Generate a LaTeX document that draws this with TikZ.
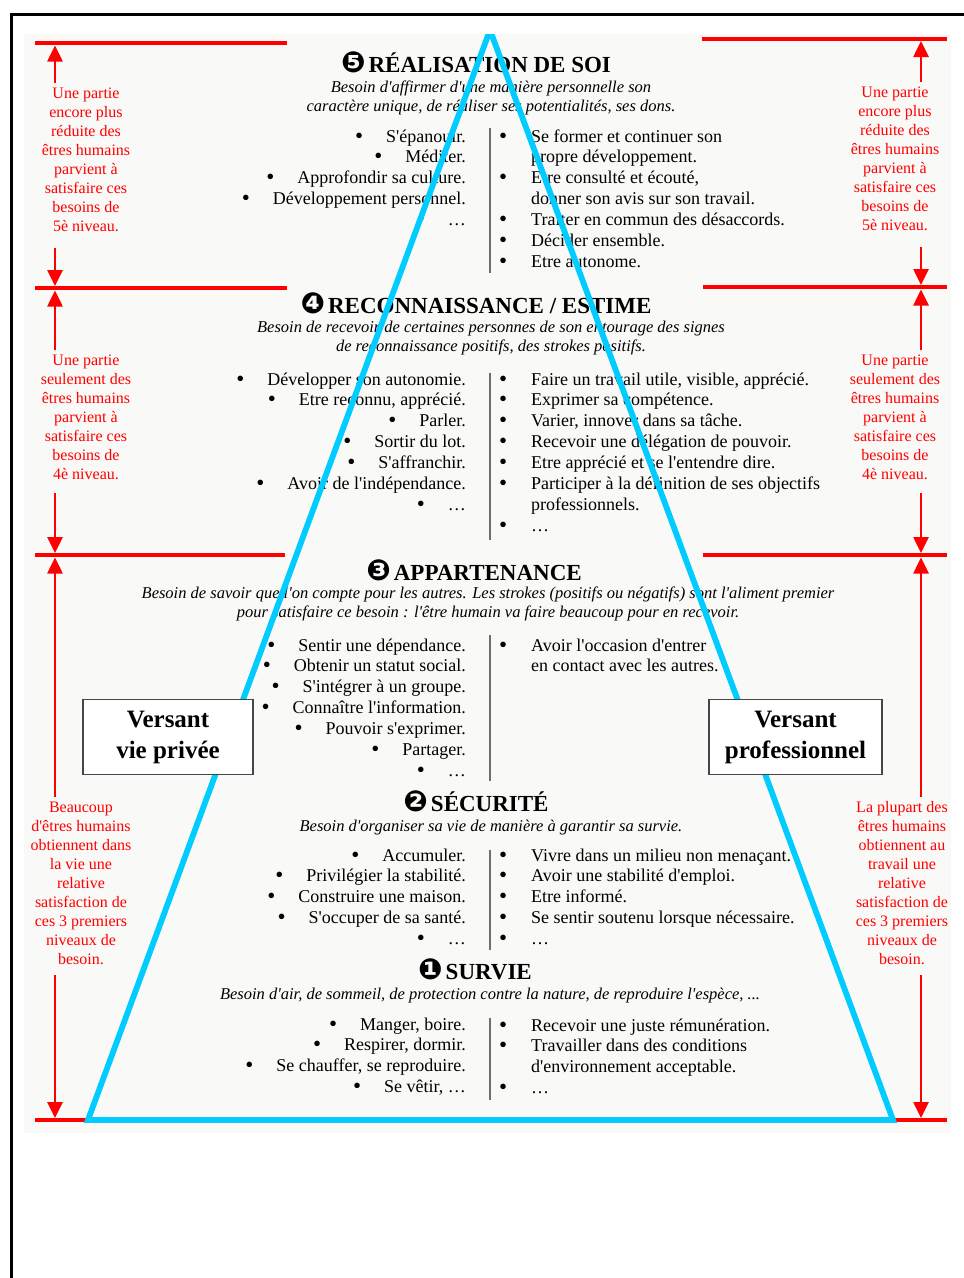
\documentclass[tikz,border=0pt]{standalone}
\usepackage{fontspec}
\setmainfont{Liberation Serif}[Ligatures=TeXOff]
\newfontfamily\dingfont{DejaVu Sans}
\usetikzlibrary{arrows.meta}

\definecolor{skyblue}{RGB}{0,204,255}
\definecolor{panelbg}{RGB}{249,250,248}
\definecolor{sepgray}{RGB}{110,110,110}
\definecolor{boxgray}{RGB}{70,70,70}

\newcommand\bigdot{\raisebox{-1pt}{\fontsize{23}{0}\selectfont\textbullet}}
\newcommand\lbul{\makebox[31pt][l]{\bigdot}}
\newcommand\rbul{\makebox[31pt][l]{\hspace*{-1pt}\bigdot}}
\newcommand\rind{\hspace*{31pt}}
\newcommand\circnum[1]{{\dingfont\fontsize{29}{29}\selectfont #1}\hspace{3pt}}

\begin{document}
% multi-line nodes are placed by the baseline of their LAST line
\begin{tikzpicture}[x=1pt,y=-1pt,
  redline/.style={red, line width=4pt},
  redarrow/.style={red, line width=2.6pt, -{Triangle[width=15pt,length=16pt]}},
  redtxt/.style={text=red, align=center, inner sep=0pt, anchor=base, font=\fontsize{16}{19.1}\selectfont},
  title/.style={inner sep=0pt, anchor=base, font=\fontsize{23}{26}\selectfont\bfseries},
  subtitle/.style={inner sep=0pt, align=center, anchor=base, font=\fontsize{16.5}{19.6}\selectfont\itshape},
  leftlist/.style={inner sep=0pt, align=right, anchor=base east, font=\fontsize{18}{20.9}\selectfont},
  rightlist/.style={inner sep=0pt, align=left, anchor=base west, font=\fontsize{18}{20.9}\selectfont},
  sep/.style={sepgray, line width=1.6pt},
  versant/.style={draw=boxgray, line width=1.5pt, fill=white, align=center, font=\fontsize{25}{31}\selectfont\bfseries, minimum height=75pt, inner sep=0pt},
  pyramid/.style={skyblue, line width=5.8pt, line join=miter}
]
\useasboundingbox (0,0) rectangle (964,1278);
\fill[white] (0,0) rectangle (964,1278);
% frame
\draw[line width=3pt, line join=miter] (964,14) -- (11,14) -- (11,1278);
% panel
\fill[panelbg] (24,34) rectangle (951,1133);

% red level lines
\draw[redline] (35,43) -- (287,43);
\draw[redline] (702,38.5) -- (947,38.5);
\draw[redline] (35,288) -- (287,288);
\draw[redline] (703,287) -- (947,287);
\draw[redline] (35,555) -- (285,555);
\draw[redline] (703,555) -- (947,555);
\draw[redline] (35,1120) -- (92,1120);
\draw[redline] (889,1120) -- (947,1120);

% arrow coordinates
\coordinate (la5a) at (55,83);   \coordinate (la5b) at (55,45.5);
\coordinate (la5c) at (55,248);  \coordinate (la5d) at (55,286);
\coordinate (ra5a) at (921,82);  \coordinate (ra5b) at (921,41);
\coordinate (ra5c) at (921,247); \coordinate (ra5d) at (921,285);
\coordinate (la4a) at (55,350);  \coordinate (la4b) at (55,290.5);
\coordinate (la4c) at (55,493);  \coordinate (la4d) at (55,553);
\coordinate (ra4a) at (921,350); \coordinate (ra4b) at (921,289.5);
\coordinate (ra4c) at (921,493); \coordinate (ra4d) at (921,553);
\coordinate (la3a) at (55,797);  \coordinate (la3b) at (55,557.5);
\coordinate (la3c) at (55,975);  \coordinate (la3d) at (55,1118);
\coordinate (ra3a) at (921,797); \coordinate (ra3b) at (921,557.5);
\coordinate (ra3c) at (921,975); \coordinate (ra3d) at (921,1118);

\draw[redarrow] (la5a) -- (la5b);
\draw[redarrow] (la5c) -- (la5d);
\draw[redarrow] (ra5a) -- (ra5b);
\draw[redarrow] (ra5c) -- (ra5d);
\draw[redarrow] (la4a) -- (la4b);
\draw[redarrow] (la4c) -- (la4d);
\draw[redarrow] (ra4a) -- (ra4b);
\draw[redarrow] (ra4c) -- (ra4d);
\draw[redarrow] (la3a) -- (la3b);
\draw[redarrow] (la3c) -- (la3d);
\draw[redarrow] (ra3a) -- (ra3b);
\draw[redarrow] (ra3c) -- (ra3d);

% red texts
\node[redtxt] (lt5) at (86,231.7) {Une partie\\encore plus\\réduite des\\êtres humains\\parvient à\\satisfaire ces\\besoins de\\5è niveau.};
\node[redtxt] (rt5) at (895,230.7) {Une partie\\encore plus\\réduite des\\êtres humains\\parvient à\\satisfaire ces\\besoins de\\5è niveau.};
\node[redtxt] (lt4) at (86,479.6) {Une partie\\seulement des\\êtres humains\\parvient à\\satisfaire ces\\besoins de\\4è niveau.};
\node[redtxt] (rt4) at (895,479.6) {Une partie\\seulement des\\êtres humains\\parvient à\\satisfaire ces\\besoins de\\4è niveau.};
\node[redtxt] (lt3) at (81,964.8) {Beaucoup\\d'êtres humains\\obtiennent dans\\la vie une\\relative\\satisfaction de\\ces 3 premiers\\niveaux de\\besoin.};
\node[redtxt] (rt3) at (902,964.8) {La plupart des\\êtres humains\\obtiennent au\\travail une\\relative\\satisfaction de\\ces 3 premiers\\niveaux de\\besoin.};

% level 5
\node[title] (t5) at (476,72) {\circnum{❺}RÉALISATION DE SOI};
\node[subtitle] (s5) at (491,111.6) {Besoin d'affirmer d'une manière personnelle son\\caractère unique, de réaliser ses potentialités, ses dons.};
\node[leftlist] (l5) at (466,225.6) {\lbul S'épanouir.\\\lbul Méditer.\\\lbul Approfondir sa culture.\\\lbul Développement personnel.\\\lbul …};
\node[rightlist] (r5) at (500,267.4) {\rbul Se former et continuer son\\\rind propre développement.\\\rbul Etre consulté et écouté,\\\rind donner son avis sur son travail.\\\rbul Traiter en commun des désaccords.\\\rbul Décider ensemble.\\\rbul Etre autonome.};
\draw[sep] (490,128) -- (490,273);

% level 4
\node[title] (t4) at (476,313) {\circnum{❹}RECONNAISSANCE / ESTIME};
\node[subtitle] (s4) at (491,351.6) {Besoin de recevoir de certaines personnes de son entourage des signes\\de reconnaissance positifs, des strokes positifs.};
\node[leftlist] (l4) at (466,510.4) {\lbul Développer son autonomie.\\\lbul Etre reconnu, apprécié.\\\lbul Parler.\\\lbul Sortir du lot.\\\lbul S'affranchir.\\\lbul Avoir de l'indépendance.\\\lbul …};
\node[rightlist] (r4) at (500,531.3) {\rbul Faire un travail utile, visible, apprécié.\\\rbul Exprimer sa compétence.\\\rbul Varier, innover dans sa tâche.\\\rbul Recevoir une délégation de pouvoir.\\\rbul Etre apprécié et se l'entendre dire.\\\rbul Participer à la définition de ses objectifs\\\rind professionnels.\\\rbul …};
\draw[sep] (490,373) -- (490,540);

% level 3
\node[title] (t3) at (474,580) {\circnum{❸}APPARTENANCE};
\node[subtitle] (s3) at (488,617.6) {Besoin de savoir que l'on compte pour les autres. Les strokes (positifs ou négatifs) sont l'aliment premier\\pour satisfaire ce besoin : l'être humain va faire beaucoup pour en recevoir.};
\node[leftlist] (l3) at (466,776.4) {\lbul Sentir une dépendance.\\\lbul Obtenir un statut social.\\\lbul S'intégrer à un groupe.\\\lbul Connaître l'information.\\\lbul Pouvoir s'exprimer.\\\lbul Partager.\\\lbul …};
\node[rightlist] (r3) at (500,671.9) {\rbul Avoir l'occasion d'entrer\\\rind en contact avec les autres.};
\draw[sep] (490,635) -- (490,781);

% level 2
\node[title] (t2) at (476,811) {\circnum{❷}SÉCURITÉ};
\node[subtitle] (s2) at (491,831) {Besoin d'organiser sa vie de manière à garantir sa survie.};
\node[leftlist] (l2) at (466,944.6) {\lbul Accumuler.\\\lbul Privilégier la stabilité.\\\lbul Construire une maison.\\\lbul S'occuper de sa santé.\\\lbul …};
\node[rightlist] (r2) at (500,944.6) {\rbul Vivre dans un milieu non menaçant.\\\rbul Avoir une stabilité d'emploi.\\\rbul Etre informé.\\\rbul Se sentir soutenu lorsque nécessaire.\\\rbul …};
\draw[sep] (490,850) -- (490,950);

% level 1
\node[title] (t1) at (475,979) {\circnum{❶}SURVIE};
\node[subtitle] (s1) at (490,999) {Besoin d'air, de sommeil, de protection contre la nature, de reproduire l'espèce, ...};
\node[leftlist] (l1) at (466,1092.7) {\lbul Manger, boire.\\\lbul Respirer, dormir.\\\lbul Se chauffer, se reproduire.\\\lbul Se vêtir, …};
\node[rightlist] (r1) at (500,1093.7) {\rbul Recevoir une juste rémunération.\\\rbul Travailler dans des conditions\\\rind d'environnement acceptable.\\\rbul …};
\draw[sep] (490,1018) -- (490,1100);

% pyramid
\begin{scope}
\clip (24,34) rectangle (951,1133);
\coordinate (apex) at (490,30);
\coordinate (bl) at (88,1120);
\coordinate (br) at (893,1120);
\draw[pyramid] (apex) -- (bl) -- (br) -- cycle;
\end{scope}

% side boxes
\node[versant, minimum width=170pt] (vp) at (168,737) {Versant\\vie privée};
\node[versant, minimum width=173pt] (vpro) at (795.5,737) {Versant\\professionnel};
\end{tikzpicture}
\end{document}
